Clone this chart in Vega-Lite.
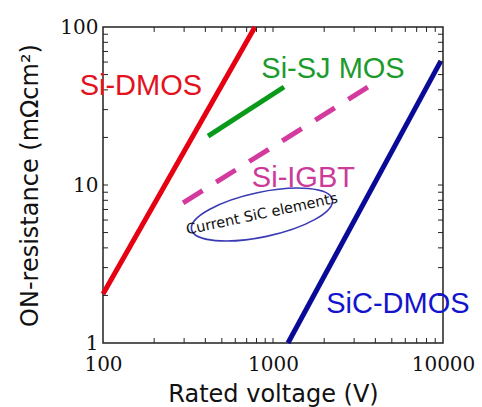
{
  "$schema": "https://vega.github.io/schema/vega-lite/v6.json",
  "width": 340,
  "height": 316,
  "autosize": {"type": "none"},
  "padding": {"left": 103, "top": 27, "right": 39, "bottom": 64},
  "background": "white",
  "config": {
    "view": {"stroke": "#222", "strokeWidth": 1.5},
    "axis": {
      "grid": false,
      "domain": false,
      "ticks": false,
      "labelFont": "DejaVu Serif",
      "labelFontSize": 20,
      "labelColor": "#111",
      "labelFlush": false,
      "labelOverlap": false,
      "titleFont": "DejaVu Sans",
      "titleFontSize": 24,
      "titleFontWeight": "normal",
      "titleColor": "#111"
    }
  },
  "datasets": {
    "lines": [
      {"series": "Si-DMOS", "x": 100, "y": 2.04},
      {"series": "Si-DMOS", "x": 783, "y": 100},
      {"series": "Si-SJ MOS", "x": 415, "y": 20.4},
      {"series": "Si-SJ MOS", "x": 1161, "y": 41.7},
      {"series": "Si-IGBT", "x": 296, "y": 7.7},
      {"series": "Si-IGBT", "x": 3620, "y": 41.7},
      {"series": "SiC-DMOS", "x": 1225, "y": 1},
      {"series": "SiC-DMOS", "x": 9720, "y": 61}
    ],
    "labels": [
      {"label": "Si-DMOS", "x": 167, "y": 42.4},
      {"label": "Si-SJ MOS", "x": 2254, "y": 54.6},
      {"label": "Si-IGBT", "x": 1510, "y": 11.15},
      {"label": "SiC-DMOS", "x": 5430, "y": 1.77}
    ],
    "region": [
      {"label": "Current SiC elements", "x": 861, "y": 6.5}
    ],
    "xticks": [
      {"v": 200}, {"v": 300}, {"v": 400}, {"v": 500}, {"v": 600}, {"v": 700}, {"v": 800}, {"v": 900}, {"v": 1000},
      {"v": 2000}, {"v": 3000}, {"v": 4000}, {"v": 5000}, {"v": 6000}, {"v": 7000}, {"v": 8000}, {"v": 9000}
    ],
    "yticks": [
      {"v": 2}, {"v": 3}, {"v": 4}, {"v": 5}, {"v": 6}, {"v": 7}, {"v": 8}, {"v": 9}, {"v": 10},
      {"v": 20}, {"v": 30}, {"v": 40}, {"v": 50}, {"v": 60}, {"v": 70}, {"v": 80}, {"v": 90}
    ]
  },
  "layer": [
    {
      "data": {"name": "lines"},
      "transform": [{"filter": "datum.series !== 'Si-IGBT'"}],
      "mark": {"type": "line", "strokeWidth": 5, "strokeCap": "butt"},
      "encoding": {
        "x": {
          "field": "x", "type": "quantitative",
          "scale": {"type": "log", "domain": [100, 10000], "nice": false},
          "axis": {
            "orient": "bottom",
            "values": [100, 1000, 10000],
            "labelExpr": "format(datum.value, 'd')",
            "labelPadding": 11,
            "title": "Rated voltage (V)",
            "titlePadding": 8
          }
        },
        "y": {
          "field": "y", "type": "quantitative",
          "scale": {"type": "log", "domain": [1, 100], "nice": false},
          "axis": {
            "orient": "left",
            "values": [1, 10, 100],
            "labelExpr": "format(datum.value, 'd')",
            "labelPadding": 5,
            "title": "ON-resistance (mΩcm²)",
            "titlePadding": 17
          }
        },
        "color": {
          "field": "series", "type": "nominal",
          "scale": {"domain": ["Si-DMOS", "Si-SJ MOS", "Si-IGBT", "SiC-DMOS"], "range": ["#e50012", "#0a9a1a", "#d43a9e", "#0a0a98"]},
          "legend": null
        }
      }
    },
    {
      "data": {"name": "lines"},
      "transform": [{"filter": "datum.series === 'Si-IGBT'"}],
      "mark": {"type": "line", "strokeWidth": 5, "strokeCap": "butt", "strokeDash": [23, 16]},
      "encoding": {
        "x": {"field": "x", "type": "quantitative", "axis": null},
        "y": {"field": "y", "type": "quantitative", "axis": null},
        "color": {
          "field": "series", "type": "nominal",
          "scale": {"domain": ["Si-DMOS", "Si-SJ MOS", "Si-IGBT", "SiC-DMOS"], "range": ["#e50012", "#0a9a1a", "#d43a9e", "#0a0a98"]},
          "legend": null
        }
      }
    },
    {
      "data": {"name": "xticks"},
      "mark": {"type": "rule", "color": "#222", "strokeWidth": 1},
      "encoding": {
        "x": {"field": "v", "type": "quantitative", "axis": null},
        "y": {"datum": 1, "type": "quantitative", "axis": null},
        "y2": {"datum": 1.075}
      }
    },
    {
      "data": {"name": "xticks"},
      "mark": {"type": "rule", "color": "#222", "strokeWidth": 1},
      "encoding": {
        "x": {"field": "v", "type": "quantitative", "axis": null},
        "y": {"datum": 100, "type": "quantitative", "axis": null},
        "y2": {"datum": 93}
      }
    },
    {
      "data": {"name": "yticks"},
      "mark": {"type": "rule", "color": "#222", "strokeWidth": 1},
      "encoding": {
        "y": {"field": "v", "type": "quantitative", "axis": null},
        "x": {"datum": 100, "type": "quantitative", "axis": null},
        "x2": {"datum": 107}
      }
    },
    {
      "data": {"name": "yticks"},
      "mark": {"type": "rule", "color": "#222", "strokeWidth": 1},
      "encoding": {
        "y": {"field": "v", "type": "quantitative", "axis": null},
        "x": {"datum": 10000, "type": "quantitative", "axis": null},
        "x2": {"datum": 9346}
      }
    },
    {
      "data": {"name": "region"},
      "mark": {
        "type": "point",
        "shape": "M -1 0 A 1 0.31 0 1 1 1 0 A 1 0.31 0 1 1 -1 0 Z",
        "size": 20736,
        "angle": 348,
        "filled": false,
        "fill": null,
        "stroke": "#3a3ab4",
        "strokeWidth": 1.6,
        "opacity": 1
      },
      "encoding": {
        "x": {"field": "x", "type": "quantitative", "axis": null},
        "y": {"field": "y", "type": "quantitative", "axis": null}
      }
    },
    {
      "data": {"name": "region"},
      "mark": {"type": "text", "font": "DejaVu Sans", "fontSize": 14.5, "angle": 348, "color": "#111", "align": "center", "baseline": "middle"},
      "encoding": {
        "x": {"field": "x", "type": "quantitative", "axis": null},
        "y": {"field": "y", "type": "quantitative", "axis": null},
        "text": {"field": "label"}
      }
    },
    {
      "data": {"name": "labels"},
      "mark": {"type": "text", "font": "Liberation Sans", "fontSize": 29, "align": "center", "baseline": "middle"},
      "encoding": {
        "x": {"field": "x", "type": "quantitative", "axis": null},
        "y": {"field": "y", "type": "quantitative", "axis": null},
        "text": {"field": "label"},
        "color": {
          "field": "label", "type": "nominal",
          "scale": {"domain": ["Si-DMOS", "Si-SJ MOS", "Si-IGBT", "SiC-DMOS"], "range": ["#e3121e", "#1c9a2c", "#cc3a9a", "#1414cc"]},
          "legend": null
        }
      }
    }
  ],
  "resolve": {"axis": {"x": "independent", "y": "independent"}, "scale": {"color": "independent"}}
}
